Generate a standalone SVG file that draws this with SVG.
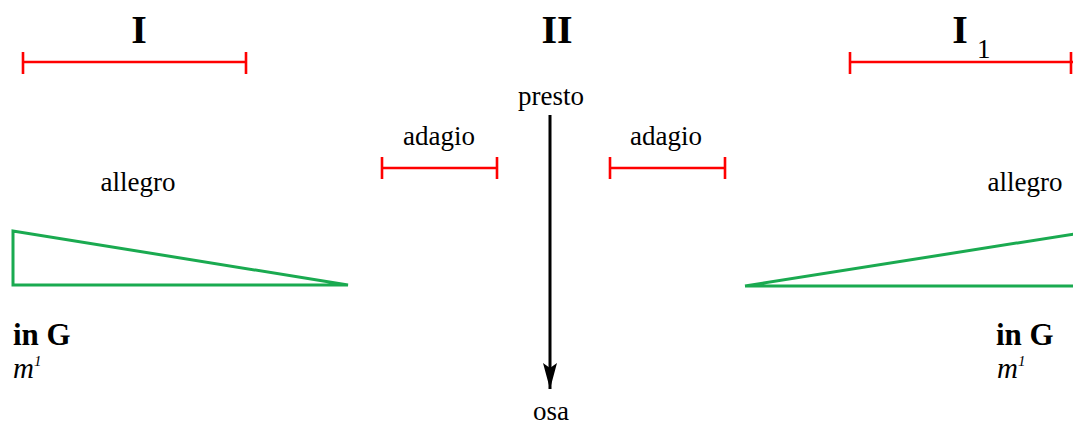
<svg xmlns="http://www.w3.org/2000/svg" width="1073" height="427" viewBox="0 0 1073 427">
<defs>
<style>
.t{font-family:"Liberation Serif","Times New Roman",serif;fill:#000;font-size:27px}
.h{font-family:"Liberation Serif","Times New Roman",serif;fill:#000;font-size:40px;font-weight:bold}
.b{font-family:"Liberation Serif","Times New Roman",serif;fill:#000;font-size:31px;font-weight:bold}
.i{font-family:"Liberation Serif","Times New Roman",serif;fill:#000;font-size:29px;font-style:italic}
.red{stroke:#ff0000;stroke-width:2.6;fill:none}
.grn{stroke:#1aaa50;stroke-width:3;fill:none;stroke-linejoin:miter}
</style>
<marker id="arr" viewBox="0 0 26 14" refX="26" refY="7" markerWidth="26" markerHeight="14" markerUnits="userSpaceOnUse" orient="auto">
<path d="M0,0 L26,7 L0,14 L5,7 Z" fill="#000"/>
</marker>
</defs>
<g id="section-I">
<text class="h" x="139" y="43" text-anchor="middle">I</text>
<path class="red" d="M23,62 H246 M23,52 V74 M246,52 V74"/>
</g>
<g id="section-II">
<text class="h" x="557" y="43" text-anchor="middle">II</text>
</g>
<g id="section-I1">
<text class="h" x="960" y="43" text-anchor="middle">I</text>
<text class="t" x="977" y="58" font-size="25">1</text>
<path class="red" d="M850,62 H1073 M850,52 V74 M1071,52 V74"/>
</g>
<g id="presto">
<text class="t" x="551" y="105" text-anchor="middle">presto</text>
</g>
<g id="osa">
<text class="t" x="551" y="420" text-anchor="middle">osa</text>
</g>
<g id="adagio-left">
<text class="t" x="439" y="145" text-anchor="middle">adagio</text>
<path class="red" d="M382,168 H497 M382,157 V179 M497,157 V179"/>
</g>
<g id="adagio-right">
<text class="t" x="666" y="145" text-anchor="middle">adagio</text>
<path class="red" d="M610,168 H725 M610,157 V179 M725,157 V179"/>
</g>
<g id="allegro-left">
<text class="t" x="138" y="191" text-anchor="middle">allegro</text>
<path class="grn" d="M13,231 V285 H348 Z"/>
<text class="b" x="13" y="345">in G</text>
<text class="i" x="13" y="378">m<tspan font-size="15" dy="-12">1</tspan></text>
</g>
<g id="allegro-right">
<text class="t" x="1025" y="191" text-anchor="middle">allegro</text>
<path class="grn" d="M745,286 L1074,234 M745,286 H1074"/>
<text class="b" x="996" y="345">in G</text>
<text class="i" x="997" y="378">m<tspan font-size="15" dy="-12">1</tspan></text>
</g>
<g id="connectors">
<line x1="550" y1="115" x2="550" y2="389" stroke="#000" stroke-width="3" marker-end="url(#arr)"/>
</g>
</svg>
